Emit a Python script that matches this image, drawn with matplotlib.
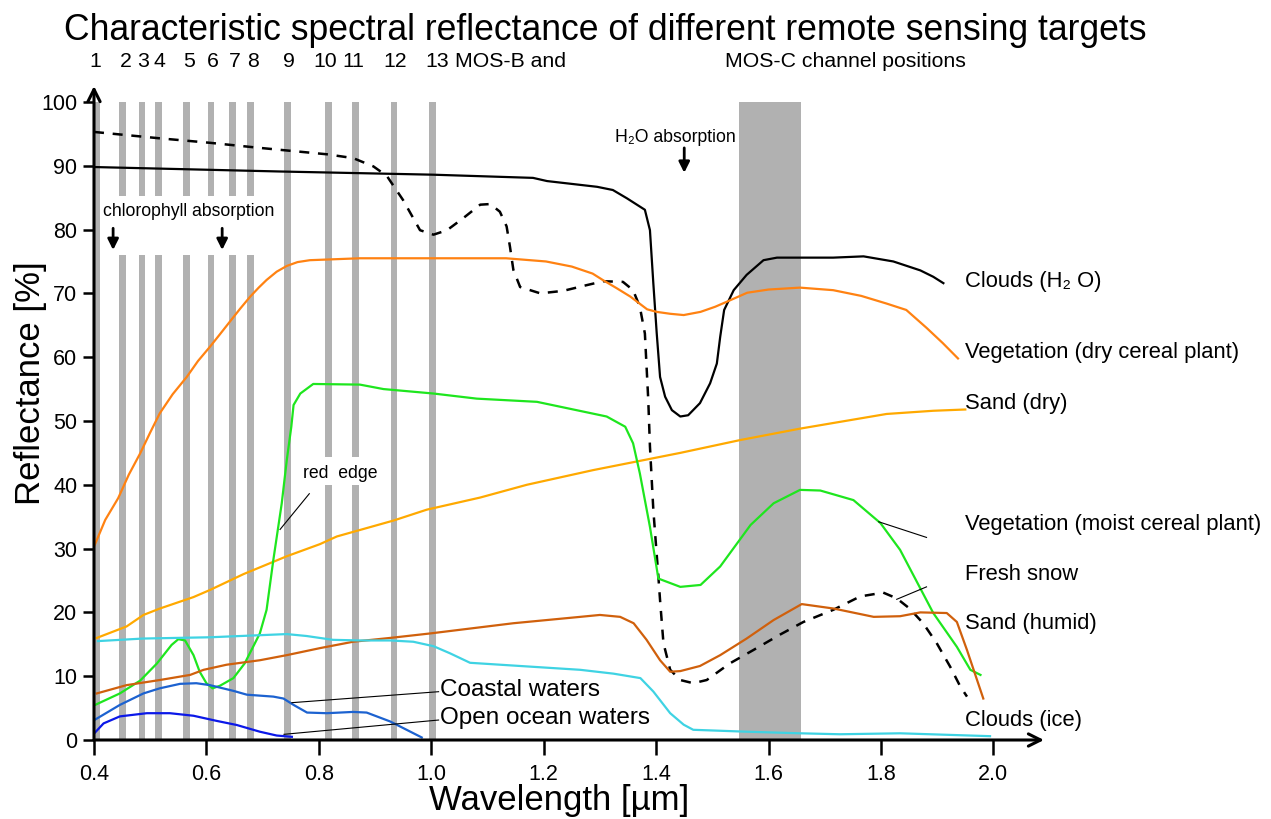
import numpy as np
import matplotlib
matplotlib.use("Agg")
import matplotlib.pyplot as plt

plt.rcParams['font.family'] = ['Liberation Sans', 'DejaVu Sans']

# MOS-B / MOS-C channel bands (um)
chan_lo = [0.400, 0.444, 0.480, 0.509, 0.558, 0.603, 0.640, 0.672, 0.738, 0.811, 0.859, 0.928, 0.996, 1.548]
chan_hi = [0.411, 0.457, 0.491, 0.521, 0.571, 0.614, 0.653, 0.685, 0.751, 0.823, 0.872, 0.939, 1.009, 1.658]
chan_names = ["1", "2", "3", "4", "5", "6", "7", "8", "9", "10", "11", "12", "13"]
chan_label_x = [0.402, 0.457, 0.487, 0.516, 0.570, 0.611, 0.651, 0.683, 0.746, 0.812, 0.862, 0.936, 1.010]

# spectral curves: wavelength (um), reflectance (%)
clouds_h2o_x = [0.400, 0.731, 1.003, 1.181, 1.206, 1.295, 1.323, 1.348, 1.380, 1.389, 1.395, 1.401, 1.407,
                1.416, 1.428, 1.443, 1.457, 1.478, 1.496, 1.508, 1.514, 1.521, 1.538, 1.561, 1.591, 1.615,
                1.715, 1.769, 1.822, 1.870, 1.893, 1.911]
clouds_h2o_y = [89.8, 89.1, 88.6, 88.1, 87.6, 86.7, 86.2, 84.9, 83.1, 79.9, 71.6, 63.8, 56.9,
                53.8, 51.7, 50.7, 50.9, 52.8, 55.9, 59.0, 63.2, 67.4, 70.5, 72.9, 75.2, 75.6,
                75.6, 75.8, 75.0, 73.6, 72.6, 71.6]

snow_x = [0.400, 0.517, 0.606, 0.695, 0.814, 0.861, 0.897, 0.921, 0.950, 0.980, 1.004, 1.028, 1.057,
          1.087, 1.105, 1.122, 1.134, 1.140, 1.146, 1.158, 1.194, 1.235, 1.277, 1.306, 1.341, 1.359,
          1.371, 1.380, 1.386, 1.389, 1.395, 1.404, 1.407, 1.413, 1.425, 1.443, 1.466, 1.490, 1.531,
          1.573, 1.620, 1.662, 1.715, 1.763, 1.804, 1.828, 1.851, 1.875, 1.899, 1.923, 1.941, 1.953]
snow_y = [95.3, 94.3, 93.6, 92.8, 91.8, 91.2, 89.9, 88.4, 84.6, 79.9, 79.2, 79.9, 81.8,
          83.9, 84.0, 82.8, 80.5, 77.3, 73.7, 71.0, 70.0, 70.4, 71.3, 71.9, 71.8, 70.5,
          67.9, 63.7, 53.3, 46.0, 36.1, 25.6, 21.9, 15.2, 11.0, 9.4, 8.9, 9.4, 12.0,
          14.1, 16.5, 18.5, 20.4, 22.5, 23.1, 22.2, 20.6, 18.3, 15.2, 11.5, 8.4, 6.8]

veg_dry_x = [0.400, 0.420, 0.443, 0.462, 0.482, 0.500, 0.517, 0.540, 0.565, 0.585, 0.606, 0.625, 0.642,
             0.660, 0.678, 0.693, 0.707, 0.725, 0.743, 0.762, 0.784, 0.873, 1.133, 1.204, 1.250, 1.287,
             1.305, 1.330, 1.354, 1.372, 1.384, 1.401, 1.425, 1.449, 1.479, 1.505, 1.526, 1.562, 1.600,
             1.656, 1.715, 1.765, 1.810, 1.845, 1.881, 1.910, 1.937]
veg_dry_y = [30.3, 34.5, 37.9, 41.6, 44.9, 48.2, 51.2, 54.2, 56.9, 59.4, 61.6, 63.7, 65.6,
             67.6, 69.5, 70.9, 72.1, 73.4, 74.3, 74.9, 75.2, 75.5, 75.5, 75.0, 74.2, 73.1,
             72.1, 70.8, 69.5, 68.3, 67.5, 67.1, 66.8, 66.6, 67.1, 67.9, 68.7, 70.1, 70.6,
             70.9, 70.5, 69.6, 68.4, 67.4, 64.6, 62.2, 59.8]

sand_dry_x = [0.405, 0.458, 0.488, 0.517, 0.577, 0.606, 0.666, 0.743, 0.802, 0.832, 0.933, 0.992, 1.087,
              1.170, 1.288, 1.443, 1.549, 1.656, 1.810, 1.893, 1.950]
sand_dry_y = [16.0, 17.8, 19.6, 20.6, 22.4, 23.5, 26.0, 28.8, 30.7, 31.9, 34.4, 36.1, 38.0,
              40.0, 42.3, 45.0, 47.0, 48.8, 51.1, 51.6, 51.8]

veg_moist_x = [0.402, 0.446, 0.482, 0.512, 0.538, 0.550, 0.562, 0.577, 0.588, 0.600, 0.611, 0.624, 0.648,
               0.668, 0.683, 0.695, 0.707, 0.719, 0.734, 0.743, 0.751, 0.755, 0.767, 0.790, 0.873, 0.915,
               1.004, 1.081, 1.188, 1.312, 1.345, 1.359, 1.371, 1.389, 1.404, 1.443, 1.479, 1.514, 1.568,
               1.609, 1.656, 1.692, 1.751, 1.799, 1.834, 1.893, 1.935, 1.959, 1.977]
veg_moist_y = [5.5, 7.3, 9.3, 12.0, 14.9, 15.8, 15.6, 13.3, 10.7, 8.9, 8.1, 8.5, 9.7,
               12.0, 14.6, 16.7, 20.4, 28.2, 37.1, 43.9, 49.1, 52.5, 54.3, 55.8, 55.7, 55.0,
               54.3, 53.5, 53.0, 50.7, 49.1, 46.5, 41.8, 33.4, 25.3, 24.0, 24.3, 27.2, 33.7,
               37.1, 39.2, 39.1, 37.6, 34.0, 29.8, 19.9, 14.6, 11.0, 10.2]

sand_humid_x = [0.405, 0.458, 0.517, 0.571, 0.595, 0.636, 0.695, 0.743, 0.802, 0.861, 0.927, 0.998, 1.146,
                1.265, 1.300, 1.336, 1.360, 1.383, 1.407, 1.425, 1.443, 1.478, 1.514, 1.561, 1.609, 1.659,
                1.716, 1.787, 1.834, 1.870, 1.917, 1.935, 1.953, 1.982]
sand_humid_y = [7.3, 8.6, 9.4, 10.2, 11.0, 11.8, 12.5, 13.3, 14.4, 15.4, 16.0, 16.7, 18.3,
                19.3, 19.6, 19.3, 18.3, 15.7, 12.5, 10.7, 10.8, 11.6, 13.3, 15.9, 18.8, 21.3,
                20.6, 19.3, 19.4, 20.0, 19.9, 18.5, 14.1, 6.5]

clouds_ice_x = [0.407, 0.487, 0.606, 0.743, 0.778, 0.825, 0.873, 0.927, 0.968, 1.004, 1.033, 1.069, 1.158,
                1.265, 1.324, 1.372, 1.395, 1.425, 1.449, 1.466, 1.561, 1.656, 1.727, 1.834, 1.923, 1.994]
clouds_ice_y = [15.5, 15.9, 16.1, 16.6, 16.3, 15.7, 15.6, 15.6, 15.4, 14.7, 13.6, 12.1, 11.6,
                11.0, 10.4, 9.7, 7.6, 4.2, 2.4, 1.6, 1.3, 1.05, 0.9, 1.05, 0.8, 0.6]

coastal_x = [0.402, 0.446, 0.488, 0.517, 0.553, 0.582, 0.606, 0.648, 0.672, 0.719, 0.737, 0.755, 0.779,
             0.814, 0.861, 0.885, 0.927, 0.983]
coastal_y = [3.2, 5.5, 7.3, 8.1, 8.8, 8.9, 8.6, 7.7, 7.1, 6.8, 6.5, 5.5, 4.3,
             4.2, 4.4, 4.3, 2.9, 0.4]

ocean_x = [0.400, 0.417, 0.446, 0.494, 0.535, 0.577, 0.618, 0.654, 0.695, 0.725, 0.752]
ocean_y = [1.0, 2.6, 3.7, 4.2, 4.2, 3.8, 3.0, 2.35, 1.3, 0.7, 0.5]

# curve labels on the right
right_labels = ["Clouds (H\u2082 O)", "Vegetation (dry cereal plant)", "Sand (dry)",
                "Vegetation (moist cereal plant)", "Fresh snow", "Sand (humid)", "Clouds (ice)"]
right_label_y = [71.8, 60.7, 52.8, 33.7, 26.0, 18.3, 3.1]

fig = plt.figure(figsize=(12.71, 8.19), dpi=100)
ax = fig.add_axes([94 / 1271, 79 / 819, 950 / 1271, 654 / 819])
ax.set_xlim(0.4, 2.09)
ax.set_ylim(0, 102.5)

bar_col = '#b1b1b1'
# channel bars, some with gaps to leave room for the annotations
for i in range(len(chan_lo)):
    w = chan_hi[i] - chan_lo[i]
    if 1 <= i <= 7:
        ax.bar(chan_lo[i], 100 - 85.3, w, bottom=85.3, align='edge', color=bar_col, zorder=1)
        ax.bar(chan_lo[i], 76.0, w, bottom=0, align='edge', color=bar_col, zorder=1)
    elif i in (9, 10):
        ax.bar(chan_lo[i], 100 - 44.4, w, bottom=44.4, align='edge', color=bar_col, zorder=1)
        ax.bar(chan_lo[i], 40.0, w, bottom=0, align='edge', color=bar_col, zorder=1)
    else:
        ax.bar(chan_lo[i], 100, w, bottom=0, align='edge', color=bar_col, zorder=1)

lw = 1.6
ax.plot(clouds_h2o_x, clouds_h2o_y, color='black', lw=lw, zorder=3)
ax.plot(snow_x, snow_y, color='black', lw=1.8, linestyle=(0, (4, 3.5)), zorder=3)
ax.plot(veg_dry_x, veg_dry_y, color='#ff8212', lw=lw, zorder=3)
ax.plot(sand_dry_x, sand_dry_y, color='#ffa900', lw=lw, zorder=3)
ax.plot(veg_moist_x, veg_moist_y, color='#1ee61e', lw=lw, zorder=3)
ax.plot(sand_humid_x, sand_humid_y, color='#d0600c', lw=lw, zorder=3)
ax.plot(clouds_ice_x, clouds_ice_y, color='#3fd3e3', lw=lw, zorder=3)
ax.plot(coastal_x, coastal_y, color='#1c62d0', lw=lw, zorder=3)
ax.plot(ocean_x, ocean_y, color='#0b18e8', lw=lw, zorder=3)

# leader lines
lead = dict(color='black', lw=0.8, zorder=4)
ax.plot([0.731, 0.783], [33.0, 38.6], **lead)
ax.plot([0.752, 1.013], [5.85, 7.57], **lead)
ax.plot([0.738, 1.013], [0.89, 3.13], **lead)
ax.plot([1.796, 1.881], [34.2, 31.75], **lead)
ax.plot([1.828, 1.881], [22.05, 24.0], **lead)

# axes with arrow heads
for s in ax.spines.values():
    s.set_visible(False)
arr = dict(arrowstyle='->', lw=2.2, color='black', shrinkA=0, shrinkB=0, mutation_scale=22)
ax.annotate('', xy=(1.0, 0), xytext=(0, 0), xycoords='axes fraction', arrowprops=arr, annotation_clip=False)
ax.annotate('', xy=(0, 1.0), xytext=(0, 0), xycoords='axes fraction', arrowprops=arr, annotation_clip=False)

ax.set_xticks(np.arange(0.4, 2.01, 0.2))
ax.set_xticklabels([f"{v:.1f}" for v in np.arange(0.4, 2.01, 0.2)])
ax.set_yticks(np.arange(0, 101, 10))
ax.tick_params(direction='out', width=1.8, labelsize=15.5)
ax.tick_params(axis='x', length=11, pad=6)
ax.tick_params(axis='y', length=8, pad=4)

ax.set_xlabel("Wavelength [\u00b5m]", fontsize=25, va='center')
ax.set_ylabel("Reflectance [%]", fontsize=25, va='center')
ax.xaxis.set_label_coords(0.49, -0.092)
ax.yaxis.set_label_coords(-0.067, 0.546)

fig.text(0.476, 0.963, "Characteristic spectral reflectance of different remote sensing targets",
         ha='center', va='center', fontsize=25.6)

# channel numbers
for name, xp in zip(chan_names, chan_label_x):
    ax.text(xp, 106.3, name, ha='center', va='center', fontsize=15.3, clip_on=False)
ax.text(1.042, 106.3, "MOS-B and", ha='left', va='center', fontsize=15.3, clip_on=False)
ax.text(1.736, 106.3, "MOS-C channel positions", ha='center', va='center', fontsize=15.3, clip_on=False)

# annotations
ax.text(0.416, 82.8, "chlorophyll absorption", ha='left', va='center', fontsize=12.7, zorder=5)
ax.text(0.772, 41.8, "red  edge", ha='left', va='center', fontsize=12.7, zorder=5)
ax.text(1.327, 94.5, "H\u2082O absorption", ha='left', va='center', fontsize=12.7, zorder=5)
down = dict(arrowstyle='-|>', lw=2, color='black', shrinkA=0, shrinkB=0, mutation_scale=16)
for xa in [0.434, 0.628]:
    ax.annotate('', xy=(xa, 76.8), xytext=(xa, 80.2), arrowprops=down)
ax.annotate('', xy=(1.450, 88.9), xytext=(1.450, 92.8), arrowprops=down)

for lab, yv in zip(right_labels, right_label_y):
    ax.text(1.950, yv, lab, ha='left', va='center', fontsize=15.8, clip_on=False)
ax.text(1.016, 7.8, "Coastal waters", ha='left', va='center', fontsize=17.5)
ax.text(1.016, 3.4, "Open ocean waters", ha='left', va='center', fontsize=17.5)

fig.savefig("out.png", dpi=100)
